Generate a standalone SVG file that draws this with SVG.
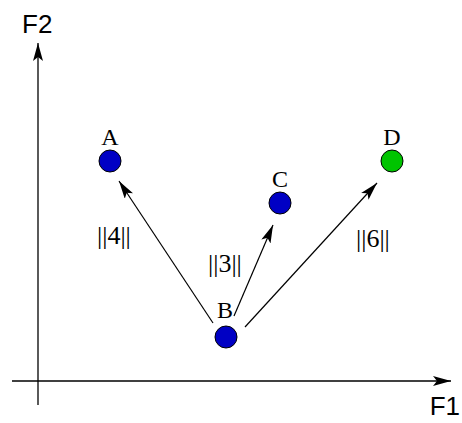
<svg xmlns="http://www.w3.org/2000/svg" width="462" height="423" viewBox="0 0 462 423">
<style>
.ax{stroke:#000;stroke-width:1.3;fill:none}
.ed{stroke:#000;stroke-width:1.2;fill:none}
.nd{stroke:#000;stroke-width:1}
.blue{fill:#0000c4}
.green{fill:#00c400}
.lbl{font-family:"Liberation Serif",serif;font-size:24px;fill:#000}
.nrm{font-family:"Liberation Serif",serif;font-size:26px;fill:#000}
.axl{font-family:"Liberation Sans",Arial,sans-serif;font-size:26px;fill:#000}
</style>
<defs>
<marker id="ah" viewBox="0 0 18 10" refX="18" refY="5" markerWidth="18" markerHeight="10" markerUnits="userSpaceOnUse" orient="auto">
<path d="M0,0 L18,5 L0,10 L4,5 Z" fill="#000"/>
</marker>
</defs>
<g id="axes">
<line class="ax" x1="38" y1="405" x2="38" y2="43" marker-end="url(#ah)"/>
<line class="ax" x1="12" y1="381" x2="451" y2="381" marker-end="url(#ah)"/>
<text class="axl" x="22" y="33">F2</text>
<text class="axl" x="460" y="415" text-anchor="end">F1</text>
</g>
<g id="connectors">
<line class="ed" x1="213" y1="323" x2="119" y2="181" marker-end="url(#ah)"/>
<line class="ed" x1="234" y1="316" x2="273" y2="225" marker-end="url(#ah)"/>
<line class="ed" x1="245" y1="327" x2="377" y2="183" marker-end="url(#ah)"/>
<text class="nrm" x="97" y="244">||4||</text>
<text class="nrm" x="208" y="272">||3||</text>
<text class="nrm" x="356" y="247">||6||</text>
</g>
<g id="A">
<circle class="nd blue" cx="110" cy="161" r="11"/>
<text class="lbl" x="110" y="145" text-anchor="middle">A</text>
</g>
<g id="B">
<circle class="nd blue" cx="226" cy="337" r="11"/>
<text class="lbl" x="225" y="318" text-anchor="middle">B</text>
</g>
<g id="C">
<circle class="nd blue" cx="280" cy="203" r="11"/>
<text class="lbl" x="280" y="187" text-anchor="middle">C</text>
</g>
<g id="D">
<circle class="nd green" cx="392" cy="161" r="11"/>
<text class="lbl" x="392" y="145" text-anchor="middle">D</text>
</g>
</svg>
